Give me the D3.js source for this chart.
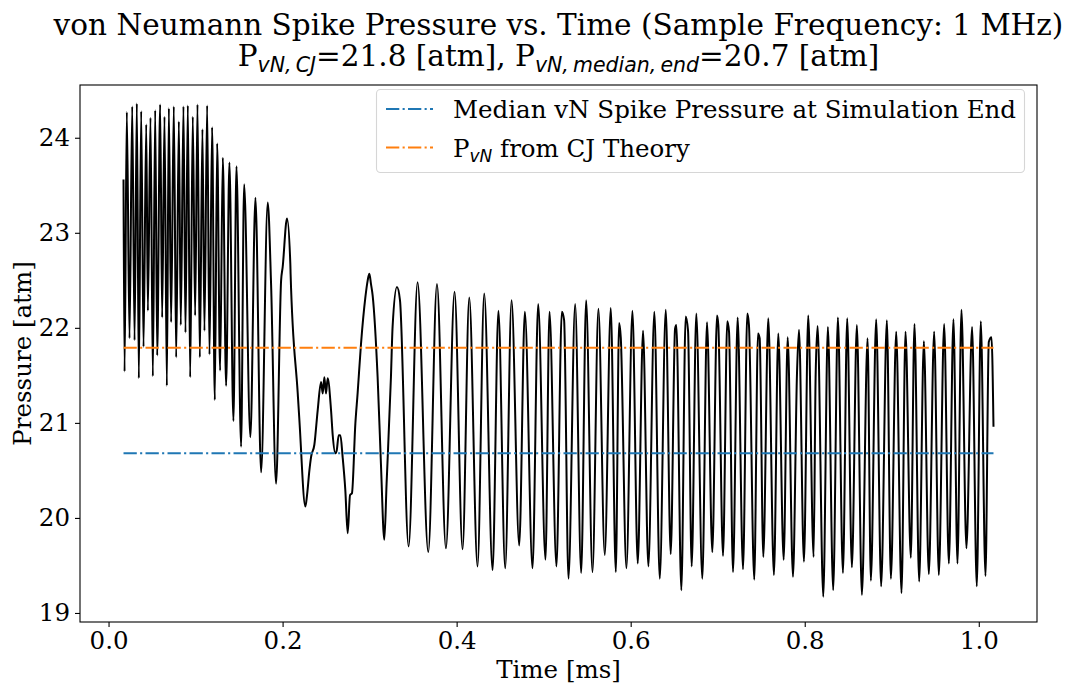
<!DOCTYPE html>
<html>
  <head>
    <meta charset="utf-8">
    <script src="https://d3js.org/d3.v7.min.js"></script>
    <title>von Neumann Spike Pressure vs. Time</title>
    <style>
      body {
        margin: 0px;
        background: #fff;
      }
      text {
        font-family: "DejaVu Serif", serif;
        fill: #000;
      }
      .sub {
        font-family: "DejaVu Sans", sans-serif;
        font-style: oblique;
      }
    </style>
  </head>
  <body>
    <div id="viz1"></div>
    <script>
      const timeMs = [
        0.0172, 0.0184, 0.0210, 0.0241, 0.0272, 0.0299, 0.0325, 0.0348, 0.0375, 0.0402,
        0.0433, 0.0452, 0.0482, 0.0509, 0.0536, 0.0559, 0.0593, 0.0616, 0.0643, 0.0670,
        0.0693, 0.0719, 0.0750, 0.0777, 0.0808, 0.0830, 0.0861, 0.0884, 0.0911, 0.0938,
        0.0968, 0.0995, 0.1022, 0.1049, 0.1079, 0.1102, 0.1133, 0.1160, 0.1190, 0.1221,
        0.1248, 0.1282, 0.1313, 0.1351, 0.1389, 0.1435, 0.1470, 0.1523, 0.1558, 0.1630,
        0.1688, 0.1753, 0.1829, 0.1868, 0.1925, 0.1983, 0.2001, 0.2051, 0.2089, 0.2092,
        0.2174, 0.2193, 0.2262, 0.2281, 0.2308, 0.2327, 0.2365, 0.2403, 0.2442, 0.2461,
        0.2480, 0.2499, 0.2518, 0.2557, 0.2576, 0.2606, 0.2622, 0.2645, 0.2664, 0.2690,
        0.2721, 0.2748, 0.2775, 0.2797, 0.2836, 0.2862, 0.2901, 0.2951, 0.2978, 0.2997,
        0.3016, 0.3035, 0.3092, 0.3130, 0.3169, 0.3195, 0.3245, 0.3264, 0.3314, 0.3349,
        0.3448, 0.3551, 0.3674, 0.3774, 0.3877, 0.3976, 0.4068, 0.4145, 0.4240, 0.4317,
        0.4413, 0.4480, 0.4558, 0.4631, 0.4719, 0.4784, 0.4872, 0.4937, 0.5021, 0.5067,
        0.5147, 0.5209, 0.5235, 0.5285, 0.5362, 0.5431, 0.5488, 0.5561, 0.5629, 0.5702,
        0.5771, 0.5829, 0.5867, 0.5886, 0.5951, 0.6020, 0.6081, 0.6142, 0.6203, 0.6272,
        0.6334, 0.6403, 0.6460, 0.6510, 0.6525, 0.6582, 0.6632, 0.6659, 0.6701, 0.6754,
        0.6823, 0.6877, 0.6938, 0.6992, 0.7007, 0.7061, 0.7110, 0.7130, 0.7176, 0.7229,
        0.7291, 0.7340, 0.7359, 0.7420, 0.7463, 0.7482, 0.7524, 0.7581, 0.7646, 0.7696,
        0.7758, 0.7804, 0.7865, 0.7911, 0.7934, 0.7991, 0.8040, 0.8102, 0.8125, 0.8148,
        0.8213, 0.8266, 0.8327, 0.8381, 0.8439, 0.8488, 0.8542, 0.8599, 0.8657, 0.8722,
        0.8760, 0.8821, 0.8878, 0.8944, 0.8990, 0.9051, 0.9112, 0.9158, 0.9219, 0.9261,
        0.9315, 0.9369, 0.9426, 0.9487, 0.9541, 0.9602, 0.9656, 0.9709, 0.9755, 0.9801,
        0.9858, 0.9923, 0.9977, 1.0023, 1.0077, 1.0115, 1.0146, 1.0169
      ];
      const pressureAtm = [
        23.56, 21.54, 24.27, 21.89, 24.33, 21.87, 24.36, 21.47, 24.28, 21.80,
        24.14, 22.18, 24.21, 21.49, 24.29, 21.71, 24.35, 22.11, 24.22, 21.39,
        24.31, 22.06, 24.33, 21.69, 24.17, 22.03, 24.33, 21.95, 24.34, 21.48,
        24.22, 22.13, 24.35, 21.69, 24.09, 21.97, 24.34, 21.72, 24.11, 21.24,
        23.94, 21.55, 23.79, 21.39, 23.74, 21.02, 23.70, 20.75, 23.51, 20.85,
        23.37, 20.48, 23.32, 22.45, 20.36, 22.50, 22.64, 23.15, 22.67, 22.57,
        21.31, 21.03, 20.12, 20.24, 20.50, 20.64, 20.77, 21.13, 21.43, 21.31,
        21.48, 21.31, 21.47, 21.13, 20.87, 20.68, 20.71, 20.87, 20.87, 20.64,
        20.29, 19.84, 20.24, 20.26, 20.99, 21.31, 21.83, 22.32, 22.50, 22.57,
        22.46, 22.34, 21.48, 20.57, 19.77, 20.36, 21.48, 22.01, 22.43, 22.29,
        19.70, 22.48, 19.64, 22.46, 19.68, 22.38, 19.67, 22.32, 19.49, 22.36,
        19.45, 22.18, 19.47, 22.29, 19.71, 22.17, 19.47, 22.25, 19.56, 22.17,
        19.49, 22.17, 22.08, 19.36, 22.25, 19.42, 22.29, 19.43, 22.20, 19.61,
        22.21, 19.43, 22.05, 21.90, 19.47, 22.18, 19.52, 21.97, 19.49, 22.17,
        19.36, 22.19, 19.62, 21.99, 22.03, 19.24, 22.12, 21.97, 19.49, 22.15,
        19.36, 22.06, 19.64, 22.13, 22.03, 19.60, 22.07, 21.96, 19.43, 22.11,
        19.46, 22.15, 22.03, 19.35, 21.94, 21.89, 19.59, 22.10, 19.40, 21.94,
        19.56, 21.90, 19.38, 21.52, 21.98, 19.54, 22.13, 19.59, 21.48, 22.02,
        19.17, 22.01, 19.24, 22.11, 19.42, 22.10, 19.48, 22.03, 19.19, 21.89,
        19.34, 22.09, 19.28, 22.08, 19.36, 21.96, 19.21, 21.96, 19.58, 22.04,
        19.33, 21.86, 19.41, 21.96, 19.40, 22.04, 19.52, 22.09, 19.52, 22.19,
        19.68, 22.01, 19.28, 22.07, 19.39, 21.85, 21.90, 20.96
      ];

      const medianEndAtm = 20.68;
      const cjTheoryAtm = 21.79;

      const xTicks = [0.0, 0.2, 0.4, 0.6, 0.8, 1.0];
      const yTicks = [19, 20, 21, 22, 23, 24];

      const legendLabels = ['Median vN Spike Pressure at Simulation End', 'from CJ Theory'];
      const legendColors = ['#1f77b4', '#ff7f0e'];

      const width = 1068, height = 686;
      const margin = { left: 80, right: 31, top: 85, bottom: 64 };
      const innerWidth = width - margin.left - margin.right;
      const innerHeight = height - margin.top - margin.bottom;

      const fontSize = '24.5px';
      const titleSize = '29.5px';
      const thin = '\u2009';

      const svg = d3.select('#viz1').append('svg')
        .attr('width', width)
        .attr('height', height);

      const xScale = d3.scaleLinear()
        .domain([-0.0328, 1.0669])
        .range([0, innerWidth]);
      const yScale = d3.scaleLinear()
        .domain([18.905, 24.555])
        .range([innerHeight, 0]);

      const g = svg.append('g')
        .attr('transform', `translate(${margin.left},${margin.top})`);

      const data = timeMs.map((t, i) => ({ t: t, p: pressureAtm[i] }));
      const tExtent = d3.extent(timeMs);

      // signal
      const line = d3.line()
        .x(d => xScale(d.t))
        .y(d => yScale(d.p))
        .curve(d3.curveMonotoneX);

      g.append('path')
        .datum(data)
        .attr('d', line)
        .attr('fill', 'none')
        .attr('stroke', '#000')
        .attr('stroke-width', 2)
        .attr('stroke-linejoin', 'round');

      // reference levels
      const dashDot = '13.3,3.3,2.1,3.3';
      [medianEndAtm, cjTheoryAtm].forEach((v, i) => {
        g.append('line')
          .attr('x1', xScale(tExtent[0]))
          .attr('x2', xScale(tExtent[1]))
          .attr('y1', yScale(v))
          .attr('y2', yScale(v))
          .attr('stroke', legendColors[i])
          .attr('stroke-width', 2)
          .attr('stroke-dasharray', dashDot);
      });

      // axes
      const xAxis = d3.axisBottom(xScale)
        .tickValues(xTicks)
        .tickFormat(d3.format('.1f'))
        .tickSize(5)
        .tickPadding(5);
      const yAxis = d3.axisLeft(yScale)
        .tickValues(yTicks)
        .tickFormat(d3.format('d'))
        .tickSize(5)
        .tickPadding(5);

      const xAxisG = g.append('g')
        .attr('transform', `translate(0,${innerHeight})`)
        .call(xAxis);
      const yAxisG = g.append('g').call(yAxis);

      [xAxisG, yAxisG].forEach(a => {
        a.select('.domain').remove();
        a.selectAll('.tick line').attr('stroke', '#000').attr('stroke-width', 1.1);
        a.selectAll('.tick text')
          .style('font-family', '"DejaVu Serif", serif')
          .style('font-size', fontSize)
          .attr('fill', '#000');
      });

      // frame
      g.append('rect')
        .attr('x', 0).attr('y', 0)
        .attr('width', innerWidth).attr('height', innerHeight)
        .attr('fill', 'none')
        .attr('stroke', '#000')
        .attr('stroke-width', 1.1);

      // axis labels
      svg.append('text')
        .attr('x', margin.left + innerWidth / 2)
        .attr('y', 678)
        .attr('text-anchor', 'middle')
        .style('font-size', fontSize)
        .text('Time [ms]');

      svg.append('text')
        .attr('transform', `translate(31,${margin.top + innerHeight / 2}) rotate(-90)`)
        .attr('text-anchor', 'middle')
        .style('font-size', fontSize)
        .text('Pressure [atm]');

      // title
      const cx = margin.left + innerWidth / 2;
      svg.append('text')
        .attr('x', cx).attr('y', 35)
        .attr('text-anchor', 'middle')
        .style('font-size', titleSize)
        .text('von Neumann Spike Pressure vs. Time (Sample Frequency: 1 MHz)');

      const t2 = svg.append('text')
        .attr('x', cx).attr('y', 66)
        .attr('text-anchor', 'middle')
        .style('font-size', titleSize);
      t2.append('tspan').text('P');
      t2.append('tspan').attr('class', 'sub').attr('dy', 6).style('font-size', '20.5px')
        .text('vN,' + thin + 'CJ');
      t2.append('tspan').attr('dy', -6).text('=21.8 [atm], P');
      t2.append('tspan').attr('class', 'sub').attr('dy', 6).style('font-size', '20.5px')
        .text('vN,' + thin + 'median,' + thin + 'end');
      t2.append('tspan').attr('dy', -6).text('=20.7 [atm]');

      // legend
      const legend = svg.append('g');
      legend.append('rect')
        .attr('x', 376.5).attr('y', 89.5)
        .attr('width', 648).attr('height', 83)
        .attr('rx', 4)
        .attr('fill', '#fff')
        .attr('fill-opacity', 0.8)
        .attr('stroke', '#d6d6d6')
        .attr('stroke-width', 1.1);

      legendLabels.forEach((lab, i) => {
        const ly = 109 + i * 38.5;
        legend.append('line')
          .attr('x1', 386).attr('x2', 433)
          .attr('y1', ly).attr('y2', ly)
          .attr('stroke', legendColors[i])
          .attr('stroke-width', 2)
          .attr('stroke-dasharray', dashDot);
        const tx = legend.append('text')
          .attr('x', 453).attr('y', ly + 9)
          .style('font-size', fontSize);
        if (i === 0) {
          tx.text(lab);
        } else {
          tx.append('tspan').text('P');
          tx.append('tspan').attr('class', 'sub').attr('dy', 5).style('font-size', '17px').text('vN');
          tx.append('tspan').attr('dy', -5).text(' ' + lab);
        }
      });
    </script>
  </body>
</html>
